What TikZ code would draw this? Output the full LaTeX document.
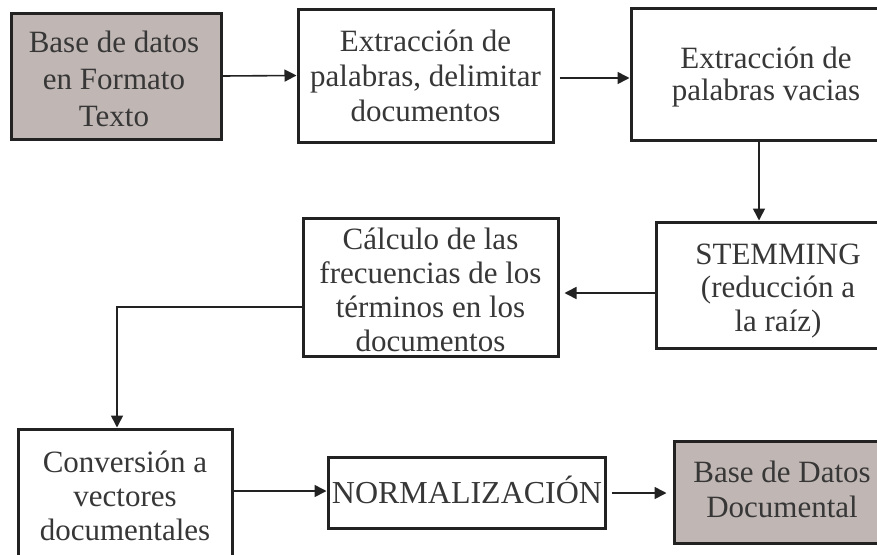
\documentclass[tikz,border=0pt]{standalone}
\usepackage{fontspec}
\setmainfont{Liberation Serif}
\usetikzlibrary{arrows.meta}
\definecolor{boxfill}{RGB}{192,182,179}
\definecolor{edge}{RGB}{34,34,34}
\definecolor{ink}{RGB}{55,55,55}
\begin{document}
\begin{tikzpicture}[x=1pt,y=-1pt,
  frame/.style={draw=edge, line width=3pt, inner sep=0pt, rectangle},
  shaded/.style={frame, fill=boxfill},
  txt/.style={text=ink, align=center, inner sep=0pt, font=\fontsize{31}{#1}\selectfont},
  conn/.style={draw=edge, line width=1.6pt, -{Triangle[length=12pt,width=12pt]}}]
\useasboundingbox (0,0) rectangle (877,554);
\clip (0,0) rectangle (877,554);
\fill[white] (0,0) rectangle (877,554);
% boxes
\node[shaded, minimum width=210pt, minimum height=126pt] (b1) at (116,76) {};
\node[frame, minimum width=255pt, minimum height=133pt] (b2) at (425.5,75.5) {};
\node[frame, minimum width=270pt, minimum height=132pt] (b3) at (766,74) {};
\node[frame, minimum width=244pt, minimum height=126pt] (b4) at (778,285) {};
\node[frame, minimum width=255pt, minimum height=138pt] (b5) at (430.5,287) {};
\node[frame, minimum width=214pt, minimum height=136pt] (b6) at (125,497) {};
\node[frame, minimum width=277pt, minimum height=71pt] (b7) at (466.5,492.5) {};
\node[shaded, minimum width=214pt, minimum height=102pt] (b8) at (781,492) {};
% texts
\node[txt=37] (t1) at (114,79) {Base de datos\\en Formato\\Texto};
\node[txt=35] (t2) at (425.5,76) {Extracción de\\palabras, delimitar\\documentos};
\node[txt=32] (t3) at (766,77) {Extracción de\\palabras vacias};
\node[txt=33.5] (t4) at (778,291) {STEMMING\\(reducción a\\la raíz)};
\node[txt=34] (t5) at (430.5,290) {Cálculo de las\\frecuencias de los\\términos en los\\documentos};
\node[txt=34] (t6) at (125,495.5) {Conversión a\\vectores\\documentales};
\node[txt=36, font=\fontsize{32}{36}\selectfont] (t7) at (467,490) {NORMALIZACIÓN};
\node[txt=35] (t8) at (782,489) {Base de Datos\\Documental};
% connector anchor points
\coordinate (p2) at ([yshift=-2.5pt]b2.east);
\coordinate (p3) at ([xshift=-7pt]b3.south);
\coordinate (p4) at ([yshift=-8pt]b4.west);
\coordinate (p5) at ([yshift=-20pt]b5.west);
\coordinate (q5) at ([xshift=-8pt]b6.north);
\coordinate (p6) at ([yshift=6pt]b6.east);
\coordinate (p7) at ([yshift=-0.5pt]b7.east);
% connectors
\draw[conn] (b1.east) -- (b2.west);
\draw[conn, shorten <=5pt] (p2) -- (b3.west |- p2);
\draw[conn] (p3) -- (p3 |- b4.north);
\draw[conn, shorten >=5pt] (p4) -- (b5.east |- p4);
\draw[conn] (p5) -| (q5);
\draw[conn] (p6) -- (b7.west |- p6);
\draw[conn, shorten <=5pt, shorten >=6pt] (p7) -- (b8.west |- p7);
\end{tikzpicture}
\end{document}
